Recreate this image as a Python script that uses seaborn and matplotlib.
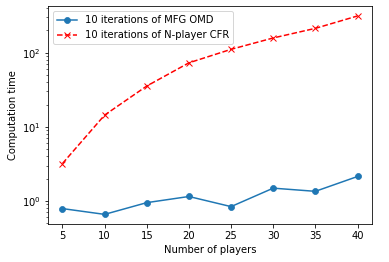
import matplotlib
matplotlib.use("Agg")
import matplotlib.pyplot as plt
import seaborn as sns
import pandas as pd

players = [5, 10, 15, 20, 25, 30, 35, 40]
omd_time = [0.79, 0.66, 0.95, 1.15, 0.84, 1.49, 1.35, 2.14]
cfr_time = [3.2, 14.4, 35.5, 73, 111, 158, 213, 313]

df = pd.DataFrame({"players": players, "omd": omd_time, "cfr": cfr_time})

fig = plt.figure(figsize=(389 / 72, 262 / 72), dpi=72)
ax = fig.add_axes([0.1226, 0.1439, 0.957 - 0.1226, 0.977 - 0.1439])

sns.lineplot(data=df, x="players", y="omd", ax=ax, marker="o", color="#1f77b4",
             markeredgecolor="#1f77b4", markersize=6, linewidth=1.5,
             label="10 iterations of MFG OMD")
sns.lineplot(data=df, x="players", y="cfr", ax=ax, marker="x", color="red",
             markeredgecolor="red", markerfacecolor="red",
             markersize=6, markeredgewidth=1.0, linewidth=1.5,
             label="10 iterations of N-player CFR")
for ln in ax.get_lines():
    if ln.get_label() == "10 iterations of N-player CFR":
        ln.set_linestyle("--")

ax.set_yscale("log")
ax.set_xticks(players)
ax.set_xlabel("Number of players")
ax.set_ylabel("Computation time")
ax.legend(loc="upper left")

fig.savefig("out.png", dpi=72)
